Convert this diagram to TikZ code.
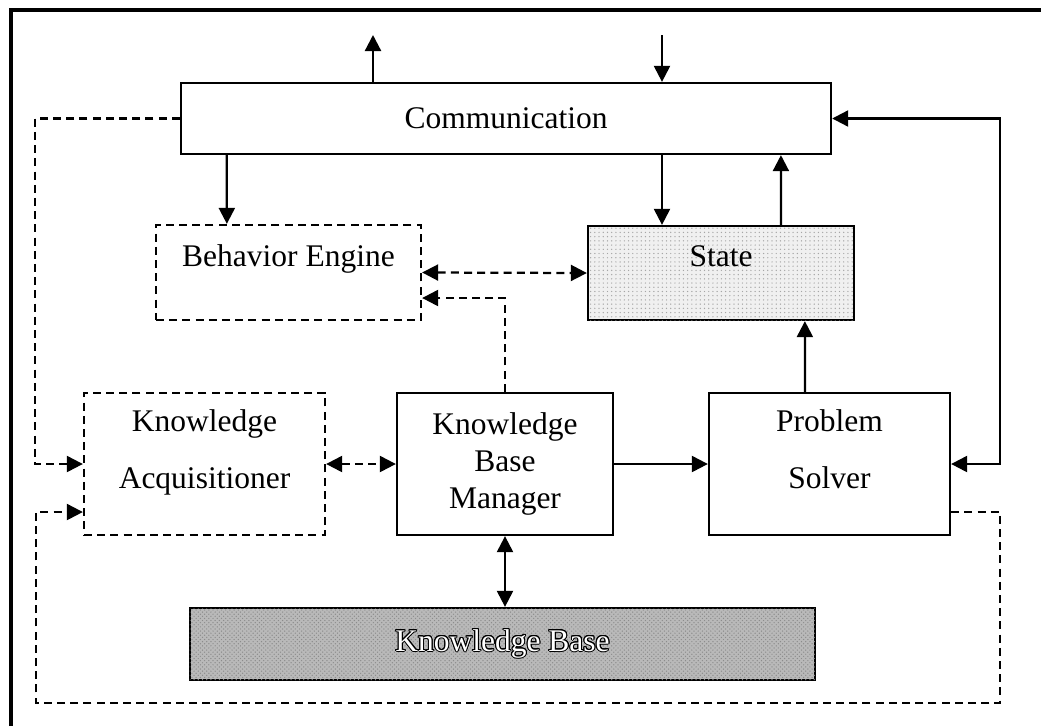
\documentclass[tikz,border=0pt]{standalone}
\usepackage{fontspec}
\setmainfont{Liberation Serif}
\usepackage{contour}
\contourlength{0.7pt}
\usetikzlibrary{
    arrows.meta,
    patterns,
    positioning
}

\newcommand{\diagfont}{\fontsize{22.4}{26.2}\selectfont}

\begin{document}
\begin{tikzpicture}[
    x=0.025cm, y=-0.025cm,
    box/.style={rectangle, draw=black, line width=1.6pt, font=\diagfont,
                align=center, inner sep=0pt},
    dashbox/.style={box, dash pattern=on 0.2cm off 0.13cm},
    raised/.style={text depth=24pt},
    tworow/.style={text depth=21pt},
    arrow/.style={->, >={Triangle[length=0.4cm, width=0.4cm]}, line width=1.6pt},
    dashline/.style={arrow, dash pattern=on 0.2cm off 0.13cm},
    frame/.style={line width=2.4pt}
]

    \useasboundingbox (0,0) rectangle (1041,726);
    \draw [frame] (11,726) -- (11,10) -- (1041,10);

    \node (comm) [box, minimum width=16.25cm, minimum height=1.775cm] at (506,118.5) {Communication};
    \node (engine) [dashbox, raised, minimum width=6.625cm, minimum height=2.375cm] at (288.5,272.5) {Behavior Engine};
    \node (state) [box, raised, fill=gray!12, postaction={pattern=dots, pattern color=gray!70},
                   minimum width=6.65cm, minimum height=2.35cm] at (721,273) {State};
    \node (acq) [dashbox, tworow, minimum width=6.025cm, minimum height=3.55cm] at (204.5,464) {Knowledge\\[14.8pt]Acquisitioner};
    \node (kbm) [box, minimum width=5.4cm, minimum height=3.55cm] at (505,464) {Knowledge\\Base\\Manager};
    \node (solver) [box, tworow, minimum width=6.025cm, minimum height=3.55cm] at (829.5,464) {Problem\\[14.8pt]Solver};
    \node (kb) [box, fill=gray!55, postaction={pattern=crosshatch dots, pattern color=gray!90},
                minimum width=15.625cm, minimum height=1.8cm] at (502.5,644) {\contour{black}{\color{white}Knowledge Base}};

    \coordinate (outlet) at (373,35);
    \coordinate (inlet) at (662,35);
    \coordinate (corner) at (36,703);

    \draw [arrow] (comm.north -| outlet) -- (outlet);
    \draw [arrow] (inlet) -- (inlet |- comm.north);
    \draw [arrow] (inlet |- comm.south) -- (inlet |- state.north);
    \draw [arrow] ([xshift=1.175cm]comm.south west) -- ([xshift=1.8cm]engine.north west);
    \draw [arrow] ([xshift=4.85cm]state.north west) -- ([xshift=15.025cm]comm.south west);
    \draw [arrow] ([xshift=2.425cm]solver.north west) -- ([xshift=5.45cm]state.south west);
    \draw [arrow, <->] (comm.east) -- ++(168,0) |- (solver.east);
    \draw [dashline, <->] (engine.east) -- (state.west);
    \draw [dashline] (kbm.north) |- ([yshift=-0.6375cm]engine.east);
    \draw [dashline] (comm.west) -- ++(-145,0) |- (acq.west);
    \draw [dashline, <->] (acq.east) -- (kbm.west);
    \draw [arrow] (kbm.east) -- (solver.west);
    \draw [arrow, <->] (kbm.south) -- (kbm.south |- kb.north);
    \draw [dashline] ([yshift=-1.2cm]solver.east) -- ++(49,0) |- (corner) |- ([yshift=-1.2cm]acq.west);

\end{tikzpicture}
\end{document}
